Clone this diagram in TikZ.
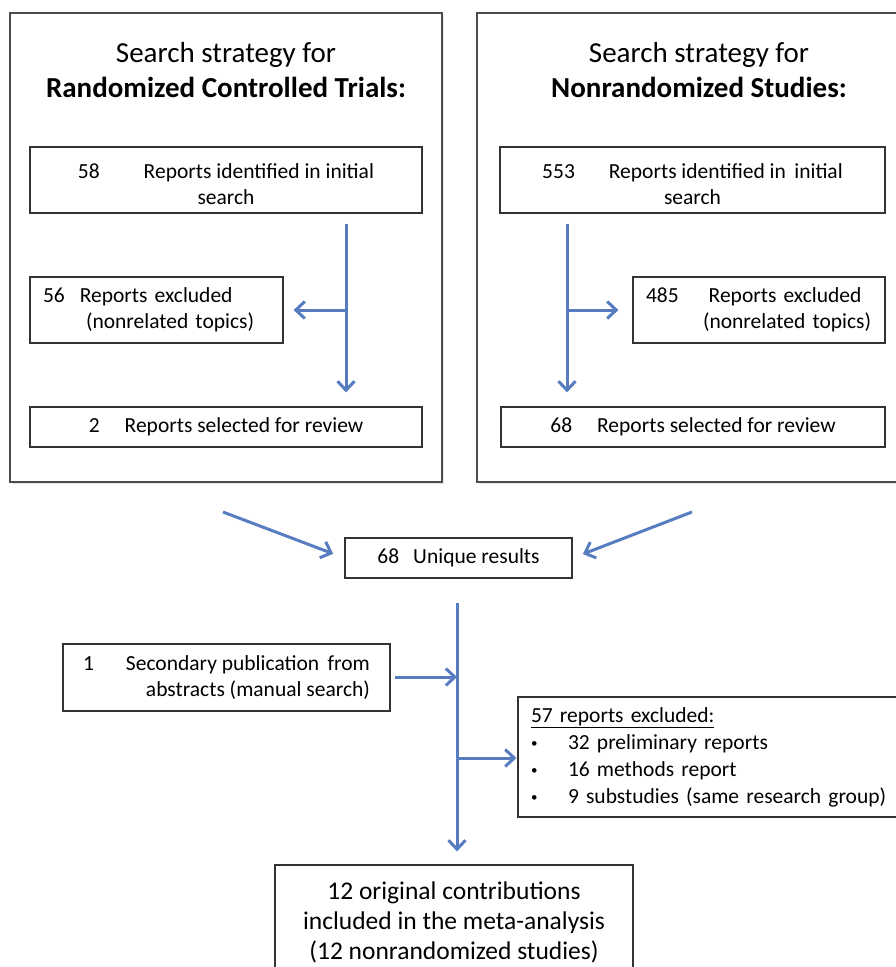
\documentclass[tikz,border=0pt]{standalone}
\usepackage{fontspec}
\setmainfont{Carlito}
\usepackage{tikz}
\usetikzlibrary{positioning, arrows.meta, shadows}
\definecolor{flowblue}{RGB}{88,124,192}
\newcommand{\smallbullet}{\makebox[37pt][l]{\raisebox{0.15ex}{\fontsize{13}{13}\selectfont\textbullet}}}

\begin{document}
\begin{tikzpicture}[x=1pt, y=-1pt,
        frame/.style={draw=black!70, line width=1.5pt, fill=white,
                      drop shadow={opacity=0.2, shadow xshift=1.5pt, shadow yshift=-1.5pt},
                      inner sep=0pt},
        title/.style={align=center, inner sep=0pt,
                      font=\fontsize{29}{35}\selectfont},
        box/.style={draw=black!80, line width=1.2pt, fill=white,
                    drop shadow={opacity=0.2, shadow xshift=1.2pt, shadow yshift=-1.2pt},
                    inner sep=0pt, font=\fontsize{21.5}{26}\selectfont},
        flow/.style={draw=flowblue, line width=3pt,
                     -{Straight Barb[length=9pt, width=17pt]}}]
      \useasboundingbox (0,0) rectangle (896,967);
      \node[frame, minimum width=432, minimum height=469] (rct) at (226,247.5) {};
      \node[frame, minimum width=432, minimum height=469] (nrs) at (693,247.5) {};
      \node[title] (rcttitle) at (226,70) {Search strategy for\\\textbf{Randomized Controlled Trials:}};
      \node[title] (nrstitle) at (699,70) {Search strategy for\\\textbf{Nonrandomized Studies:}};
      \node[box, align=center, minimum width=392, minimum height=66, text height=50pt] (rct58) at (226,180)
           {58\hspace{44pt}Reports identified in initial\\search};
      \node[box, align=left, text width=227, inner xsep=13, minimum height=66] (rct56) at (156.5,310)
           {56\hspace{15pt}Reports excluded\\\hspace{43pt}(nonrelated topics)};
      \node[box, align=center, minimum width=392, minimum height=40] (rct2) at (226,427)
           {2\hspace{25pt}Reports selected for review};
      \node[box, align=center, minimum width=385, minimum height=66, text height=50pt] (nrs553) at (692.5,180)
           {553\hspace{34pt}Reports identified in\, initial\\search};
      \node[box, align=left, text width=226, inner xsep=13, minimum height=66] (nrs485) at (759,310)
           {485\hspace{30pt}Reports excluded\\\hspace{57pt}(nonrelated topics)};
      \node[box, align=center, minimum width=384, minimum height=40] (nrs68) at (693,427)
           {68\hspace{25pt}Reports selected for review};
      \node[box, align=center, minimum width=227, minimum height=40] (uniq) at (458.5,558)
           {68\hspace{14pt}Unique results};
      \node[box, align=right, minimum width=327, minimum height=67] (sec) at (226.5,677.5)
           {1\hspace{32pt}Secondary publication\, from\\abstracts (manual search)};
      \node[box, align=left, text width=361, inner xsep=13, minimum height=120,
            font=\fontsize{21.5}{27}\selectfont] (excl) at (711.5,757)
           {\underline{57 reports excluded:}\\
            \smallbullet 32 preliminary reports\\
            \smallbullet 16 methods report\\
            \smallbullet 9 substudies (same research group)};
      \node[box, align=center, minimum width=358, minimum height=115,
            font=\fontsize{25.5}{30}\selectfont] (final) at (454,922.5)
           {12 original contributions\\included in the meta-analysis\\(12 nonrandomized studies)};
      \coordinate (rctsplit) at (346,310);
      \coordinate (nrssplit) at (567,310);
      \coordinate (rctout) at (223,512);
      \coordinate (nrsout) at (692,512);
      \coordinate (trunk) at (457,603);
      \coordinate (join) at (457,677);
      \coordinate (branch) at (457,758);
      \draw[flow, shorten <=10pt, shorten >=14pt] (rct58.south -| rctsplit) -- (rct2.north -| rctsplit);
      \draw[flow, shorten >=10pt] (rctsplit) -- (rct56.east |- rctsplit);
      \draw[flow, shorten <=10pt, shorten >=14pt] (nrs553.south -| nrssplit) -- (nrs68.north -| nrssplit);
      \draw[flow, shorten >=14pt] (nrssplit) -- (nrs485.west |- nrssplit);
      \draw[flow, shorten >=12pt] (rctout) -- (uniq.west);
      \draw[flow, shorten >=11pt] (nrsout) -- (uniq.east);
      \draw[flow, shorten >=13pt] (trunk) -- (final.north -| trunk);
      \draw[flow, shorten <=4pt] (sec.east |- join) -- (join);
      \draw[flow, shorten >=1pt] (branch) -- (excl.west |- branch);
    \end{tikzpicture}
\end{document}
